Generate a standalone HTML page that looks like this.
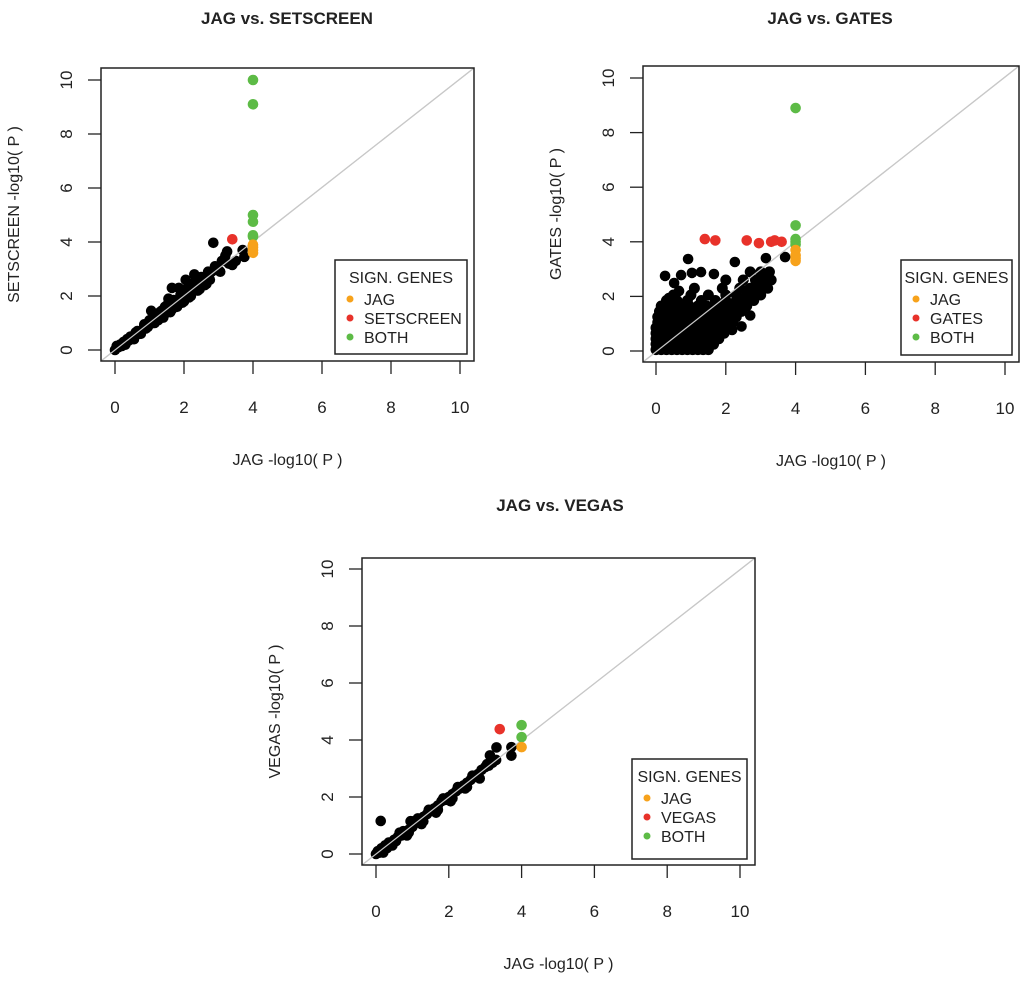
<!DOCTYPE html>
<html><head><meta charset="utf-8"><style>
body{margin:0;background:#fff}
svg text{font-family:"Liberation Sans",sans-serif;fill:#222}
</style></head><body>
<svg id="c" width="1024" height="981" viewBox="0 0 1024 981" xmlns="http://www.w3.org/2000/svg"></svg>
<script>
const ticks=[0,2,4,6,8,10];
// SETSCREEN plot data
const setX=[0,0.05,0.1,0.15,0.2,0.25,0.3,0.4,0.45,0.5,0.6,0.65,0.7,0.8,0.85,0.9,1.0,1.0,1.05,1.1,1.2,1.2,1.3,1.35,1.4,1.45,1.5,1.55,1.6,1.65,1.7,1.75,1.8,1.85,1.9,2.0,2.05,2.1,2.2,2.3,2.3,2.4,2.5,2.6,2.7,2.75,2.8,2.85,3.0,3.1,3.2,3.25,3.3,3.5,3.7,3.75,0.3,0.55,0.75,0.95,1.15,1.25,1.45,1.65,1.95,2.15,2.45,2.65,3.05,3.4,0.35,0.6,0.85,1.1,1.3,1.5,1.7,1.9,2.1,2.3,2.5,2.7,2.9,1.4,1.6,1.8,2.0,2.2,2.4,2.6];
const setY=[0,0.15,0.1,0.2,0.15,0.3,0.25,0.35,0.5,0.45,0.55,0.7,0.6,0.75,0.9,0.8,0.95,1.1,1.45,1.0,1.15,1.3,1.2,1.45,1.3,1.6,1.4,1.9,1.5,2.3,1.6,1.8,1.7,2.3,1.85,2.0,2.6,1.95,2.1,2.8,2.2,2.3,2.45,2.5,2.8,2.6,2.9,3.97,2.95,3.3,3.5,3.65,3.2,3.3,3.7,3.45,0.2,0.4,0.6,0.85,1.0,1.1,1.35,1.5,1.75,1.95,2.25,2.45,2.9,3.15,0.4,0.65,0.95,1.2,1.4,1.65,1.85,2.05,2.3,2.5,2.7,2.9,3.1,1.2,1.4,1.6,1.8,2.0,2.2,2.4];
const setCX=[4,4,4,4,4,4,4,4,4,4,3.4];
const setCY=[10.0,9.1,5.0,4.75,4.25,4.2,3.9,3.8,3.7,3.6,4.1];
const setCC=["g","g","g","g","g","g","o","o","o","o","r"];
// GATES plot data
const gatesCloudY=[0.05,0.25,0.45,0.65,0.85,1.05,1.25,1.45,1.65,1.85,2.05,2.3,2.6,2.9];
const gatesCloudX=[
[0,0.15,0.3,0.45,0.6,0.75,0.9,1.05,1.2,1.35,1.5],
[0,0.15,0.3,0.45,0.6,0.75,0.9,1.05,1.2,1.35,1.5,1.65],
[0,0.15,0.3,0.45,0.6,0.75,0.9,1.05,1.2,1.35,1.5,1.65,1.8],
[0,0.15,0.3,0.45,0.6,0.75,0.9,1.05,1.2,1.35,1.5,1.65,1.8,1.95],
[0,0.15,0.3,0.45,0.6,0.75,0.9,1.05,1.2,1.35,1.5,1.65,1.8,1.95,2.1],
[0.05,0.2,0.35,0.5,0.65,0.8,0.95,1.1,1.25,1.4,1.55,1.7,1.85,2.0,2.2],
[0.05,0.2,0.35,0.5,0.65,0.8,0.95,1.1,1.25,1.4,1.55,1.7,1.85,2.0,2.15,2.3],
[0.1,0.25,0.4,0.55,0.7,0.85,1.0,1.15,1.3,1.5,1.7,1.9,2.1,2.3,2.45],
[0.15,0.35,0.55,0.75,0.95,1.2,1.45,1.7,1.95,2.2,2.4,2.6],
[0.3,0.6,0.9,1.3,1.7,2.0,2.3,2.55,2.8],
[0.5,1.0,1.5,2.0,2.3,2.6,2.85,3.0],
[1.1,1.9,2.4,2.7,2.95,3.2],
[2.0,2.5,2.85,3.1,3.3],
[2.7,3.0,3.25]];
const gatesOutX=[0.92,2.26,3.15,3.7,0.26,0.72,1.03,1.29,1.66,0.52,0.66,0.37,1.4,2.18,3.18,2.6,2.45,2.7];
const gatesOutY=[3.37,3.26,3.4,3.44,2.75,2.78,2.86,2.89,2.82,2.49,2.2,1.94,0.07,0.77,2.71,2.23,0.9,1.3];
const gatesCX=[4,4,4,4,4,4,4,4,4,1.4,1.7,2.6,2.95,3.3,3.4,3.6];
const gatesCY=[8.9,4.6,4.1,4.0,3.9,3.7,3.5,3.4,3.3,4.1,4.05,4.05,3.95,4.0,4.05,4.0];
const gatesCC=["g","g","g","g","g","o","o","o","o","r","r","r","r","r","r","r"];
// VEGAS plot data
const vegX=[0,0.05,0.1,0.15,0.2,0.25,0.3,0.35,0.4,0.5,0.55,0.6,0.7,0.75,0.8,0.9,0.95,1.0,1.1,1.15,1.2,1.3,1.4,1.5,1.6,1.7,1.8,1.9,2.0,2.1,2.2,2.3,2.4,2.5,2.6,2.7,2.8,2.9,3.0,3.1,3.2,3.3,0.13,3.31,3.72,3.72,3.13,0.2,0.45,0.85,1.25,1.65,2.05,2.45,2.85,0.65,1.05,1.45,1.85,2.25,2.65,3.05,0.9,1.3,1.7,2.1,2.5];
const vegY=[0,0.1,0.05,0.2,0.15,0.3,0.2,0.4,0.35,0.5,0.45,0.6,0.65,0.8,0.7,0.85,1.15,0.95,1.1,1.25,1.15,1.3,1.4,1.5,1.6,1.7,1.85,1.9,2.0,2.1,2.2,2.3,2.4,2.5,2.6,2.7,2.8,2.95,3.05,3.1,3.2,3.3,1.16,3.74,3.75,3.45,3.46,0.05,0.3,0.65,1.05,1.45,1.85,2.3,2.65,0.75,1.15,1.55,1.95,2.35,2.75,3.15,0.75,1.15,1.55,1.95,2.35];
const vegCX=[3.4,4,4,4];
const vegCY=[4.38,4.52,4.1,3.75];
const vegCC=["r","g","g","o"];

const COL={g:"#5dbb46",o:"#f7a21b",r:"#e8322a"};
const NS="http://www.w3.org/2000/svg";
const svg=document.getElementById('c');
function mk(tag,attrs,parent,txt){const e=document.createElementNS(NS,tag);for(const k in attrs)e.setAttribute(k,attrs[k]);if(txt!==undefined)e.textContent=txt;(parent||svg).appendChild(e);return e;}

function plot(cfg){
  const g=mk('g',{});
  
  
  const sx=v=>cfg.x0+(cfg.x10-cfg.x0)*v/10;
  const sy=v=>cfg.y0+(cfg.y10-cfg.y0)*v/10;
  const t=mk('text',{x:cfg.tx,y:cfg.ty,'text-anchor':'middle','font-size':17,'font-weight':'bold'},g,cfg.title);
  
  
  const d=mk('line',{x1:cfg.bl,y1:cfg.bb,x2:cfg.br,y2:cfg.bt,stroke:'#c8c8c8','stroke-width':1.2},g);
  
  
  const pts=mk('g',{fill:'#000'},g);
  
  
  cfg.bx.forEach((v,i)=>{const c=mk('circle',{cx:sx(v),cy:sy(cfg.by[i]),r:5.3},pts);
    
    });
  if(cfg.cloudY){cfg.cloudY.forEach((yv,i)=>cfg.cloudX[i].forEach(xv=>{const c=mk('circle',{cx:sx(xv),cy:sy(yv),r:5.5},pts);
    
    }));}
  d.parentNode.appendChild(d.cloneNode());
  cfg.cx.forEach((v,i)=>{const c=mk('circle',{cx:sx(v),cy:sy(cfg.cy[i]),r:5.3,fill:COL[cfg.cc[i]]},g);
    
    });
  const b=mk('rect',{x:cfg.bl,y:cfg.bt,width:cfg.br-cfg.bl,height:cfg.bb-cfg.bt,fill:'none',stroke:'#222','stroke-width':1.5},g);
  
  
  ticks.forEach(v=>{
    mk('line',{x1:sx(v),x2:sx(v),y1:cfg.bb,y2:cfg.bb+13,stroke:'#222','stroke-width':1.3},g);
    const xl=mk('text',{x:sx(v),y:cfg.bb+52,'text-anchor':'middle','font-size':17},g,v);
    
    
    mk('line',{x1:cfg.bl-13,x2:cfg.bl,y1:sy(v),y2:sy(v),stroke:'#222','stroke-width':1.3},g);
    const yl=mk('text',{x:0,y:0,'text-anchor':'middle','font-size':17,transform:`translate(${cfg.bl-29},${sy(v)}) rotate(-90)`},g,v);
    
    
  });
  const xa=mk('text',{x:(cfg.bl+cfg.br)/2,y:cfg.bb+104,'text-anchor':'middle','font-size':16},g,'JAG -log10( P )');
  
  
  const ya=mk('text',{x:0,y:0,'text-anchor':'middle','font-size':16,transform:`translate(${cfg.bl-82},${(cfg.bt+cfg.bb)/2}) rotate(-90)`},g,cfg.name+' -log10( P )');
  
  
  const L=cfg.leg;
  const lg=mk('g',{},g);
  
  
  mk('rect',{x:L[0],y:L[1],width:L[2]-L[0],height:L[3]-L[1],fill:'#fff',stroke:'#222','stroke-width':1.5},lg);
  mk('text',{x:(L[0]+L[2])/2,y:L[1]+23,'text-anchor':'middle','font-size':16},lg,'SIGN. GENES');
  [['o','JAG'],['r',cfg.name],['g','BOTH']].forEach((e,i)=>{
    const ge=mk('g',{},lg);
    
    
    mk('circle',{cx:L[0]+15,cy:L[1]+39+i*19,r:3.5,fill:COL[e[0]]},ge);
    mk('text',{x:L[0]+29,y:L[1]+45+i*19,'font-size':16},ge,e[1]);
  });
}
plot({id:'setscreen',name:'SETSCREEN',title:'JAG vs. SETSCREEN',tx:287,ty:24,bl:101,bt:68,br:474,bb:361,x0:115,x10:460,y0:350,y10:80,
  bx:setX,by:setY,cx:setCX,cy:setCY,cc:setCC,leg:[335,260,467,354]});
plot({id:'gates',name:'GATES',title:'JAG vs. GATES',tx:830,ty:24,bl:643,bt:66,br:1019,bb:362,x0:656,x10:1005,y0:351,y10:78,
  bx:gatesOutX,by:gatesOutY,cloudY:gatesCloudY,cloudX:gatesCloudX,cx:gatesCX,cy:gatesCY,cc:gatesCC,leg:[901,260,1012,355]});
plot({id:'vegas',name:'VEGAS',title:'JAG vs. VEGAS',tx:560,ty:511,bl:362,bt:558,br:755,bb:865,x0:376,x10:740,y0:854,y10:569,
  bx:vegX,by:vegY,cx:vegCX,cy:vegCY,cc:vegCC,leg:[632,759,747,859]});
</script>
</body></html>
